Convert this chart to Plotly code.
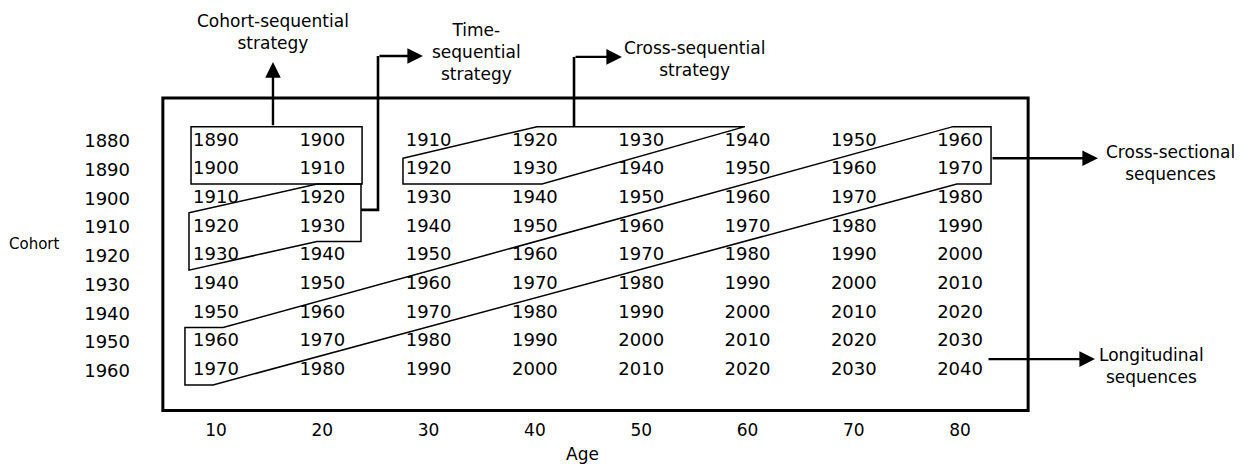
import plotly.graph_objects as go

# ---- data -------------------------------------------------------------
ages = [10, 20, 30, 40, 50, 60, 70, 80]
cohorts = [1880, 1890, 1900, 1910, 1920, 1930, 1940, 1950, 1960]

# time of measurement for each cohort (row) at each age (column)
years_1880 = [1890, 1900, 1910, 1920, 1930, 1940, 1950, 1960]
years_1890 = [1900, 1910, 1920, 1930, 1940, 1950, 1960, 1970]
years_1900 = [1910, 1920, 1930, 1940, 1950, 1960, 1970, 1980]
years_1910 = [1920, 1930, 1940, 1950, 1960, 1970, 1980, 1990]
years_1920 = [1930, 1940, 1950, 1960, 1970, 1980, 1990, 2000]
years_1930 = [1940, 1950, 1960, 1970, 1980, 1990, 2000, 2010]
years_1940 = [1950, 1960, 1970, 1980, 1990, 2000, 2010, 2020]
years_1950 = [1960, 1970, 1980, 1990, 2000, 2010, 2020, 2030]
years_1960 = [1970, 1980, 1990, 2000, 2010, 2020, 2030, 2040]
year_rows = [years_1880, years_1890, years_1900, years_1910, years_1920,
             years_1930, years_1940, years_1950, years_1960]

FONT = "DejaVu Sans"

fig = go.Figure()
for cohort, row in zip(cohorts, year_rows):
    fig.add_trace(go.Scatter(
        x=ages, y=[cohort] * len(ages), text=[str(v) for v in row],
        mode="text", textposition="middle center",
        textfont=dict(family=FONT, size=18, color="black"),
        hoverinfo="skip", showlegend=False))


def poly(points, closed=True):
    d = "M " + " L ".join(f"{x},{y}" for x, y in points)
    return d + (" Z" if closed else "")


thin = dict(color="black", width=1.5)
thick = dict(color="black", width=2.6)

shapes = [
    # outer frame
    dict(type="rect", xref="x", yref="y", x0=5.0, x1=86.4, y0=1865.0, y1=1973.9,
         line=dict(color="black", width=3)),
    # cohort-sequential box
    dict(type="rect", xref="x", yref="y", x0=7.65, x1=23.74, y0=1875, y1=1895, line=thin),
    # time-sequential box
    dict(type="path", xref="x", yref="y", line=thin,
         path=poly([(7.46, 1905), (19.5, 1895), (23.64, 1895), (23.64, 1915),
                    (19.5, 1915), (7.46, 1925)])),
    # cross-sequential box
    dict(type="path", xref="x", yref="y", line=thin,
         path=poly([(27.59, 1886), (40.2, 1875), (59.76, 1875), (40.67, 1895),
                    (27.59, 1895)])),
    # cross-sectional box
    dict(type="path", xref="x", yref="y", line=thin,
         path=poly([(7.08, 1945), (10.66, 1945), (79.33, 1875), (82.91, 1875),
                    (82.91, 1895), (79.7, 1895), (9.72, 1965), (7.08, 1965)])),
    # connectors
    dict(type="path", xref="x", yref="y", line=thick,
         path=poly([(23.64, 1904), (25.24, 1904), (25.24, 1850.4)], closed=False)),
    dict(type="path", xref="x", yref="y", line=thick,
         path=poly([(43.68, 1875), (43.68, 1850.7)], closed=False)),
]


def arrow(xt, yt, xh, yh):
    return dict(x=xh, y=yh, ax=xt, ay=yt, xref="x", yref="y", axref="x", ayref="y",
                showarrow=True, arrowhead=2, arrowsize=1.3, arrowwidth=2.4,
                arrowcolor="black", text="", standoff=0, startstandoff=0)


def label(text, x, y, size=17):
    return dict(x=x, y=y, xref="x", yref="y", text=text, showarrow=False,
                font=dict(family=FONT, size=size, color="black"),
                xanchor="center", yanchor="middle", align="center")


annotations = [
    arrow(15.36, 1875, 15.36, 1852.5),
    arrow(25.24, 1850.4, 29.47, 1850.4),
    arrow(43.68, 1850.7, 48.19, 1850.7),
    arrow(82.91, 1886, 92.97, 1886),
    arrow(82.53, 1956, 92.69, 1956),
    label("Cohort-sequential<br>strategy", 15.36, 1842.0),
    label("Time-<br>sequential<br>strategy", 34.46, 1849.0),
    label("Cross-sequential<br>strategy", 55.06, 1851.4),
    label("Cross-sectional<br>sequences", 99.75, 1887.5),
    label("Longitudinal<br>sequences", 98.05, 1958.5),
    dict(x=-0.0912, y=0.4187, xref="paper", yref="paper", text="Cohort",
         showarrow=False, font=dict(family=FONT, size=15, color="black"),
         xanchor="center", yanchor="middle"),
    dict(x=0.4038, y=-0.099, xref="paper", yref="paper", text="Age",
         showarrow=False, font=dict(family=FONT, size=17, color="black"),
         xanchor="center", yanchor="middle"),
]

fig.update_layout(
    width=1234, height=457,
    margin=dict(l=127, r=0, t=0, b=51),
    paper_bgcolor="white", plot_bgcolor="white",
    font=dict(family=FONT, color="black"),
    shapes=shapes, annotations=annotations,
    xaxis=dict(range=[2.38, 106.52], tickvals=ages, ticktext=[str(a) for a in ages],
               showgrid=False, zeroline=False, showline=False, ticks="",
               ticklabelstandoff=4, tickfont=dict(family=FONT, size=17, color="black")),
    yaxis=dict(range=[1975.12, 1833.66], tickvals=cohorts, ticktext=[str(c) for c in cohorts],
               showgrid=False, zeroline=False, showline=False, ticks="",
               ticklabelstandoff=4, tickfont=dict(family=FONT, size=18, color="black")),
)

fig.write_html("out.html")
